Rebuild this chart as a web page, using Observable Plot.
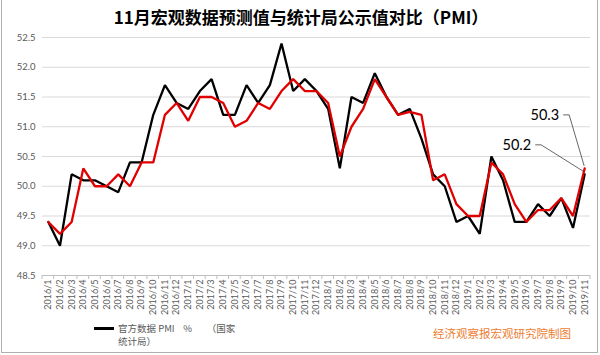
<!DOCTYPE html>
<html><head><meta charset="utf-8">
<script src="https://cdn.jsdelivr.net/npm/d3@7"></script>
<script src="https://cdn.jsdelivr.net/npm/@observablehq/plot@0.6"></script>
<style>
body{margin:0;background:#fff}
#wrap{position:relative;width:600px;height:355px;overflow:hidden;background:#fff}
#frame{position:absolute;left:1px;top:-2px;width:597px;height:355px;border:1px solid #b0b0b0;box-sizing:border-box;pointer-events:none}
#title{position:absolute;top:6px;left:1px;width:600px;text-align:center;font-weight:bold;font-size:17px;font-family:"Noto Sans CJK SC",sans-serif;color:#000;line-height:21px;white-space:nowrap}
#chart{position:absolute;left:0;top:30px}
#legline{position:absolute;left:94px;top:327px;width:20px;height:3px;background:#000}
#legtext{position:absolute;left:118px;top:322px;font-size:9.5px;line-height:13px;color:#595959;font-family:"Noto Sans CJK SC",sans-serif;white-space:pre}
#mark{position:absolute;left:433px;top:324px;font-size:11.5px;line-height:18px;color:#ED7D31;font-family:"Noto Sans CJK SC",sans-serif;white-space:nowrap}
</style></head>
<body>
<div id="wrap">
  <div id="title">11月宏观数据预测值与统计局公示值对比（PMI）</div>
  <div id="chart"></div>
  <div id="legline"></div>
  <div id="legtext"></div>
  <div id="mark">经济观察报宏观研究院制图</div>
  <div id="frame"></div>
</div>
<script>
const months = ["2016/1","2016/2","2016/3","2016/4","2016/5","2016/6","2016/7","2016/8","2016/9","2016/10","2016/11","2016/12",
"2017/1","2017/2","2017/3","2017/4","2017/5","2017/6","2017/7","2017/8","2017/9","2017/10","2017/11","2017/12",
"2018/1","2018/2","2018/3","2018/4","2018/5","2018/6","2018/7","2018/8","2018/9","2018/10","2018/11","2018/12",
"2019/1","2019/2","2019/3","2019/4","2019/5","2019/6","2019/7","2019/8","2019/9","2019/10","2019/11"];
const official = [49.4,49.0,50.2,50.1,50.1,50.0,49.9,50.4,50.4,51.2,51.7,51.4,
51.3,51.6,51.8,51.2,51.2,51.7,51.4,51.7,52.4,51.6,51.8,51.6,
51.3,50.3,51.5,51.4,51.9,51.5,51.2,51.3,50.8,50.2,50.0,49.4,
49.5,49.2,50.5,50.1,49.4,49.4,49.7,49.5,49.8,49.3,50.2];
const forecast = [49.4,49.2,49.4,50.3,50.0,50.0,50.2,50.0,50.4,50.4,51.2,51.4,
51.1,51.5,51.5,51.4,51.0,51.1,51.4,51.3,51.6,51.8,51.6,51.6,
51.4,50.5,51.0,51.3,51.8,51.5,51.2,51.25,51.2,50.1,50.2,49.7,
49.5,49.5,50.4,50.2,49.7,49.4,49.6,49.6,49.8,49.5,50.3];
const yTicks = [48.5,49.0,49.5,50.0,50.5,51.0,51.5,52.0,52.5];
const legendLabel = "官方数据 PMI    %       （国家\n统计局）";
const callouts = [
  {label: "50.3", value: forecast[forecast.length-1]},
  {label: "50.2", value: official[official.length-1]}
];

document.getElementById("legtext").textContent = legendLabel;

const offData = months.map((m,i)=>({m, v: official[i]}));
const fcData = months.map((m,i)=>({m, v: forecast[i]}));

function annot(index, scales) {
  const x = scales.x, y = scales.y;
  const g = d3.create("svg:g");
  const step = x(months[1]) - x(months[0]);
  const y0 = y(yTicks[0]);
  const bounds = months.map(m => x(m) - step/2).concat([x(months[months.length-1]) + step/2]);
  for (const bx of bounds) {
    g.append("line").attr("x1", bx).attr("x2", bx).attr("y1", y0).attr("y2", y0 + 4)
      .attr("stroke", "#bfbfbf").attr("stroke-width", 1);
  }
  const lx = x(months[months.length-1]);
  const specs = [
    {c: callouts[0], tx: -25, ty: -52, knee: 6},
    {c: callouts[1], tx: -53, ty: -28, knee: 6}
  ];
  for (const s of specs) {
    const py = y(s.c.value);
    const ax = lx + s.tx + 4, ay = py + s.ty - 1;
    g.append("path")
      .attr("d", `M${ax},${ay}L${ax + s.knee},${ay}L${lx},${py - 2}`)
      .attr("fill", "none").attr("stroke", "#404040").attr("stroke-width", 0.8);
    g.append("text").attr("x", lx + s.tx).attr("y", py + s.ty)
      .attr("text-anchor", "end").attr("dominant-baseline", "middle")
      .attr("font-size", 14.5).attr("fill", "#000").attr("font-family", "Lato, sans-serif")
      .text(s.c.label);
  }
  return g.node();
}

const chart = Plot.plot({
  width: 600,
  height: 285,
  marginTop: 7,
  marginBottom: 40,
  marginLeft: 42,
  marginRight: 10,
  style: {fontFamily: "Lato, 'Noto Sans', sans-serif", color: "#595959", background: "transparent"},
  x: {type: "point", domain: months, padding: 0.5, label: null},
  y: {domain: [48.5, 52.5], label: null},
  marks: [
    Plot.gridY(yTicks.slice(1), {stroke: "#d9d9d9", strokeOpacity: 1, strokeWidth: 1}),
    Plot.ruleY([48.5], {stroke: "#bfbfbf", strokeWidth: 1}),
    Plot.axisY({ticks: yTicks, tickFormat: d => d.toFixed(1), tickSize: 0, tickPadding: 7, fontSize: 9.5}),
    Plot.axisX({tickRotate: -90, tickSize: 0, tickPadding: 4, fontSize: 9, label: null}),
    Plot.line(offData, {x: "m", y: "v", stroke: "#000", strokeWidth: 2.3, strokeLinejoin: "miter"}),
    Plot.line(fcData, {x: "m", y: "v", stroke: "#e00000", strokeWidth: 2.3, strokeLinejoin: "miter"}),
    annot
  ]
});
document.getElementById("chart").appendChild(chart);
</script>
</body></html>
